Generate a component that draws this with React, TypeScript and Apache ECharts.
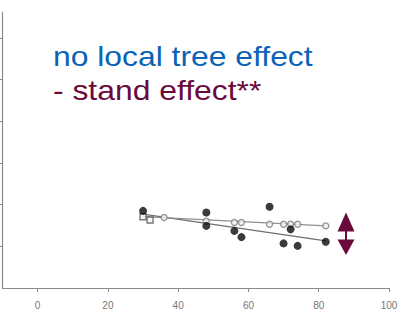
import React, { useEffect, useRef } from "react";
import * as echarts from "echarts";

// Stand age (x) against response (y): measured trees, reference trees, and fitted lines
const xTicks = [0, 20, 40, 60, 80, 100];
const yTicks = [1, 2, 3, 4, 5, 6];

const measuredX = [30, 48, 48, 56, 58, 66, 70, 72, 74, 82];
const measuredY = [1.85, 1.81, 1.49, 1.37, 1.22, 1.95, 1.07, 1.41, 1.01, 1.11];

const referenceX = [36, 48, 56, 58, 66, 70, 72, 74, 82];
const referenceY = [1.69, 1.6, 1.57, 1.57, 1.53, 1.53, 1.53, 1.53, 1.49];

const youngX = [30, 32];
const youngY = [1.71, 1.63];

const fitRange = [30, 82];
const measuredFit = [1.77, 1.13];
const referenceFit = [1.71, 1.49];

const headline = "no local tree effect";
const subline = "- stand effect**";

const zip = (xs: number[], ys: number[]) => xs.map((x, i) => [x, ys[i]]);

export default function App() {
  const ref = useRef<HTMLDivElement>(null);

  useEffect(() => {
    if (!ref.current) return;
    const chart = echarts.init(ref.current, null, { renderer: "svg" });
    const axisGrey = "#8a8a8a";
    const maroon = "#6a0a3c";
    chart.setOption({
      animation: false,
      grid: { left: 2.5, right: 18, top: 12, bottom: 42 },
      xAxis: {
        type: "value",
        min: -10,
        max: 100,
        splitLine: { show: false },
        axisLine: { onZero: false, lineStyle: { color: axisGrey, width: 1 } },
        axisTick: { customValues: xTicks, length: 4, lineStyle: { color: axisGrey } },
        axisLabel: {
          customValues: xTicks,
          color: "#777",
          fontSize: 10,
          fontFamily: "Liberation Sans",
          margin: 12,
        },
      },
      yAxis: {
        type: "value",
        min: 0,
        max: 6.62,
        splitLine: { show: false },
        axisLine: { show: true, onZero: false, lineStyle: { color: axisGrey, width: 1.2 } },
        axisTick: { show: true, customValues: yTicks, length: 3, lineStyle: { color: axisGrey } },
        axisLabel: { show: false },
      },
      series: [
        {
          type: "line",
          data: zip(fitRange, measuredFit),
          symbol: "none",
          lineStyle: { color: "#6f6f6f", width: 1.2 },
          z: 1,
        },
        {
          type: "line",
          data: zip(fitRange, referenceFit),
          symbol: "none",
          lineStyle: { color: "#8f8f8f", width: 1.2 },
          z: 1,
        },
        {
          type: "scatter",
          data: zip(referenceX, referenceY),
          symbol: "circle",
          symbolSize: 6,
          itemStyle: { color: "#f4f4f4", borderColor: "#808080", borderWidth: 1.4 },
          z: 2,
        },
        {
          type: "scatter",
          data: zip(youngX, youngY),
          symbol: "rect",
          symbolSize: 6,
          itemStyle: { color: "#f4f4f4", borderColor: "#555", borderWidth: 1.4 },
          z: 2,
        },
        {
          type: "scatter",
          data: zip(measuredX, measuredY),
          symbol: "circle",
          symbolSize: 8,
          itemStyle: { color: "#0a0a0a" },
          z: 3,
        },
      ],
      graphic: [
        {
          type: "text",
          x: 53,
          y: 43,
          scaleX: 1.18,
          style: {
            text: headline,
            fill: "#0b62b6",
            font: "27px 'Liberation Sans'",
            verticalAlign: "top",
          },
        },
        {
          type: "text",
          x: 53,
          y: 77,
          scaleX: 1.18,
          style: {
            text: subline,
            fill: maroon,
            font: "27px 'Liberation Sans'",
            verticalAlign: "top",
          },
        },
        {
          type: "polygon",
          shape: { points: [[346, 212.5], [354.5, 231.5], [337.5, 231.5]] },
          style: { fill: maroon },
        },
        {
          type: "rect",
          shape: { x: 345, y: 231, width: 2, height: 9 },
          style: { fill: maroon },
        },
        {
          type: "polygon",
          shape: { points: [[337.5, 239.5], [354.5, 239.5], [346, 255]] },
          style: { fill: maroon },
        },
      ],
    });
    return () => chart.dispose();
  }, []);

  return <div ref={ref} style={{ width: 407, height: 330, position: "absolute", left: 0, top: 0 }} />;
}
